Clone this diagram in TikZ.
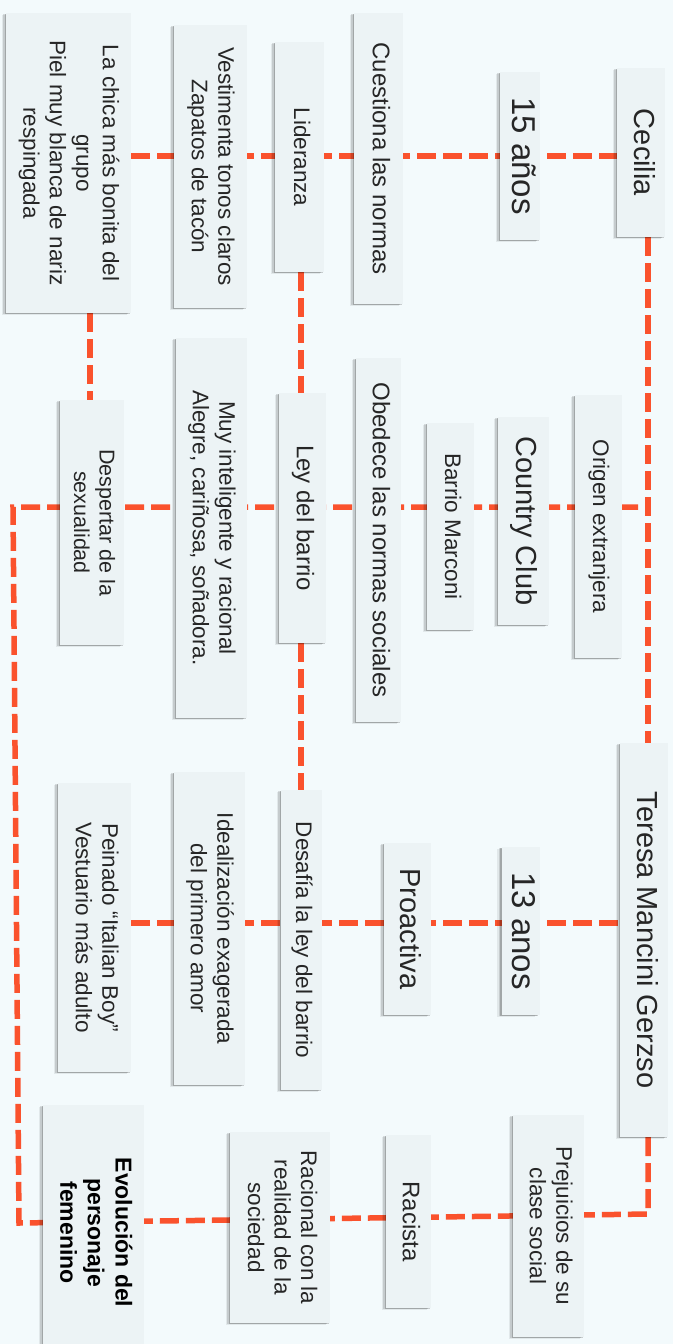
\documentclass[tikz,border=0pt]{standalone}
\usepackage{fontspec}
\setmainfont{Liberation Sans}
\usepackage{graphicx}
\usetikzlibrary{shadows,backgrounds}
\definecolor{bgc}{HTML}{F3FAFC}
\definecolor{boxfill}{HTML}{ECF3F5}
\definecolor{linkc}{RGB}{250,82,45}
\definecolor{ink}{HTML}{262626}
\newcommand\rotx[2]{\rotatebox{-90}{#1\begin{tabular}{@{}c@{}}#2\end{tabular}}}
\newcommand\fsz[2]{\fontsize{#1}{#2}\selectfont}
\newcommand\fA{\fsz{22.5}{26.5}}
\newcommand\fB{\fsz{24}{28}}
\newcommand\fC{\fsz{29}{34}}
\newcommand\fD{\fsz{33}{38}}
\begin{document}
\begin{tikzpicture}[x=1pt,y=-1pt,
  box/.style={fill=boxfill, inner sep=0pt, text=ink,
    drop shadow={shadow xshift=-1.5pt, shadow yshift=-0.5pt, fill=black, opacity=0.18},
    drop shadow={shadow xshift=-3pt, shadow yshift=-1pt, fill=black, opacity=0.12},
    drop shadow={shadow xshift=-4.5pt, shadow yshift=-1.5pt, fill=black, opacity=0.07}},
  sz/.style 2 args={minimum width=#1pt, minimum height=#2pt},
  lnk/.style={draw=linkc, line width=5.5pt, dash pattern=on 19pt off 7pt}]
\useasboundingbox (0,0) rectangle (673,1344);
\clip (0,0) rectangle (673,1344);
% row 1
\node[box,sz={48}{169}] (cecilia) at (641,152.5) {\rotx{\fC}{Cecilia}};
\node[box,sz={40}{168}] (anos15) at (520,156) {\rotx{\fD}{15 años}};
\node[box,sz={49}{291}] (cuestiona) at (378.5,158.5) {\rotx{\fB}{Cuestiona las normas}};
\node[box,sz={49}{230}] (lideranza) at (299.5,157) {\rotx{\fA}{Lideranza}};
\node[box,sz={73}{283}] (vestimenta) at (210.5,166.5) {\rotx{\fA}{Vestimenta tonos claros\\Zapatos de tacón}};
\node[box,sz={125}{300}] (lachica) at (68.5,163) {\rotx{\fA}{La chica más bonita del\\grupo\\Piel muy blanca de nariz\\respingada}};
% row 2
\node[box,sz={64}{245}] (despertar) at (92,522.5) {\rotx{\fsz{21.5}{25.5}}{Despertar de la\\sexualidad}};
\node[box,sz={71}{380}] (muy) at (211.5,528) {\rotx{\fA}{Muy inteligente y racional\\Alegre, cariñosa, soñadora.}};
\node[box,sz={47}{250}] (leybarrio) at (302.5,518) {\rotx{\fB}{Ley del barrio}};
\node[box,sz={45}{364}] (obedece) at (378.5,540) {\rotx{\fB}{Obedece las normas sociales}};
\node[box,sz={47}{207}] (marconi) at (450.5,526.5) {\rotx{\fA}{Barrio Marconi}};
\node[box,sz={51}{208}] (country) at (523.5,521) {\rotx{\fC}{Country Club}};
\node[box,sz={47}{263}] (origen) at (598.5,526.5) {\rotx{\fA}{Origen extranjera}};
% row 3
\node[box,sz={48}{394}] (teresa) at (644,940) {\rotx{\fC}{Teresa Mancini Gerzso}};
\node[box,sz={37}{168}] (anos13) at (520.5,931) {\rotx{\fD}{13 anos}};
\node[box,sz={47}{172}] (proactiva) at (407.5,929) {\rotx{\fC}{Proactiva}};
\node[box,sz={41}{300}] (desafia) at (301.5,940) {\rotx{\fA}{Desafía la ley del barrio}};
\node[box,sz={71}{313}] (ideal) at (209.5,928.5) {\rotx{\fA}{Idealización exagerada\\del primero amor}};
\node[box,sz={73}{289}] (peinado) at (94.5,927.5) {\rotx{\fA}{Peinado “Italian Boy”\\Vestuario más adulto}};
% row 4
\node[box,sz={101}{255}] (evolucion) at (93.5,1232.5) {\rotx{\fsz{23}{27.5}\bfseries\color{black}}{Evolución del\\personaje\\femenino}};
\node[box,sz={100}{191}] (racional) at (280,1227.5) {\rotx{\fA}{Racional con la\\realidad de la\\sociedad}};
\node[box,sz={45}{173}] (racista) at (408.5,1221.5) {\rotx{\fB}{Racista}};
\node[box,sz={71}{222}] (prejuicios) at (548.5,1226) {\rotx{\fA}{Prejuicios de su\\clase social}};
% helper coordinates
\coordinate (h1) at (0,156);
\coordinate (h3) at (0,923);
\coordinate (v1) at (648,0);
\coordinate (v2) at (90,0);
\coordinate (v3) at (301,0);
\coordinate (c1) at (13,507);
\coordinate (c2) at (19,1223);
\coordinate (c3) at (648,1214);
\begin{pgfonlayer}{background}
\fill[bgc] (0,0) rectangle (673,1344);
\draw[lnk] (lachica.east |- h1) -- (cecilia.west |- h1);
\draw[lnk] (cecilia.south -| v1) -- (teresa.north -| v1);
\draw[lnk] (teresa.south -| v1) -- (c3) -- (c2) -- (c1) -- (c1 -| v1);
\draw[lnk] (lachica.south -| v2) -- (despertar.north -| v2);
\draw[lnk] (lideranza.south -| v3) -- (leybarrio.north -| v3);
\draw[lnk] (leybarrio.south -| v3) -- (desafia.north -| v3);
\draw[lnk] (peinado.east |- h3) -- (teresa.west |- h3);
\end{pgfonlayer}
\end{tikzpicture}
\end{document}
